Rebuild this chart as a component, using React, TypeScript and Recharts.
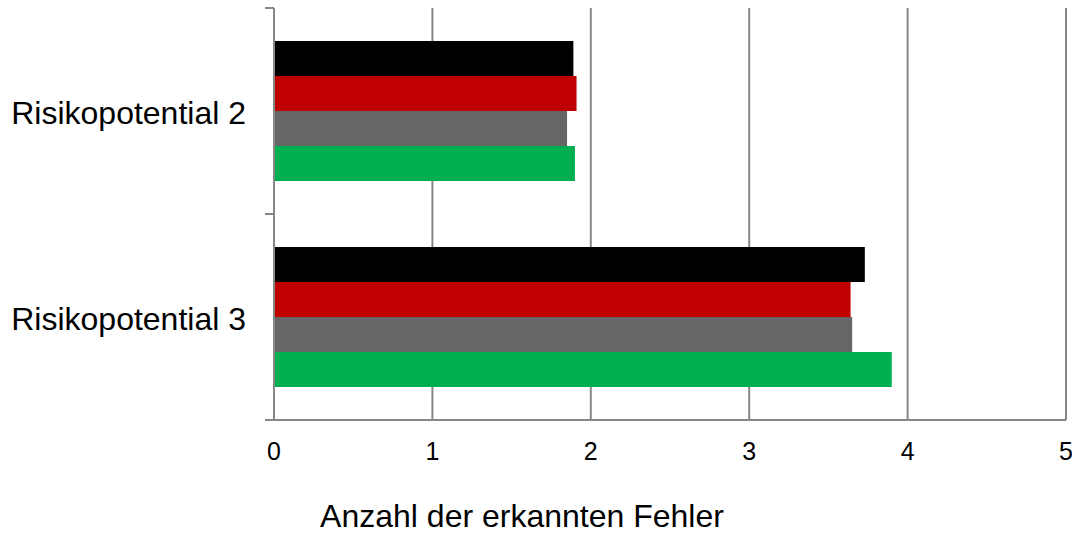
import React from "react";
import {
  BarChart,
  Bar,
  XAxis,
  YAxis,
  CartesianGrid,
  Label,
} from "recharts";

// Risk levels shown as rows, one bar per group in each row
const categories = ["Risikopotential 2", "Risikopotential 3"];

const groupBlack = [1.89, 3.73];
const groupRed = [1.91, 3.64];
const groupGray = [1.85, 3.65];
const groupGreen = [1.9, 3.9];

const xTicks = [0, 1, 2, 3, 4, 5];

const data = categories.map((name, i) => ({
  name,
  black: groupBlack[i],
  red: groupRed[i],
  gray: groupGray[i],
  green: groupGreen[i],
}));

const WIDTH = 1072;
const HEIGHT = 533;
const MARGIN_TOP = 8;
const AXIS_WIDTH = 274;
const X_AXIS_HEIGHT = 113;
const LINE = "#878787";
const FONT = '"Liberation Sans", Arial, sans-serif';

const bandSize = (HEIGHT - MARGIN_TOP - X_AXIS_HEIGHT) / categories.length;

// Category label plus tick marks on the band edges (Excel style)
function CategoryTick(props: any) {
  const { y, payload } = props;
  return (
    <g>
      <line x1={AXIS_WIDTH - 9} x2={AXIS_WIDTH} y1={y - bandSize / 2} y2={y - bandSize / 2} stroke={LINE} strokeWidth={2} />
      <line x1={AXIS_WIDTH - 9} x2={AXIS_WIDTH} y1={y + bandSize / 2} y2={y + bandSize / 2} stroke={LINE} strokeWidth={2} />
      <text
        x={AXIS_WIDTH - 28}
        y={y + 2}
        textAnchor="end"
        dominantBaseline="central"
        fill="#000"
        fontSize={32}
        fontFamily={FONT}
      >
        {payload.value}
      </text>
    </g>
  );
}

export default function App() {
  return (
    <div
      style={{
        position: "absolute",
        left: 0,
        top: 0,
        width: WIDTH,
        height: HEIGHT,
        background: "#fff",
        fontFamily: FONT,
      }}
    >
      <BarChart
        width={WIDTH}
        height={HEIGHT}
        data={data}
        layout="vertical"
        margin={{ top: MARGIN_TOP, right: 6, left: 0, bottom: 0 }}
        barCategoryGap="16%"
        barGap={0}
      >
        <CartesianGrid horizontal={false} stroke={LINE} strokeWidth={2} />
        <XAxis
          type="number"
          domain={[0, 5]}
          ticks={xTicks}
          interval={0}
          height={X_AXIS_HEIGHT}
          axisLine={{ stroke: LINE, strokeWidth: 2 }}
          tickLine={false}
          tickMargin={16}
          tick={{ fill: "#000", fontSize: 25, fontFamily: FONT }}
        >
          <Label
            value="Anzahl der erkannten Fehler"
            position="insideBottom"
            offset={6}
            dx={-148}
            fill="#000"
            fontSize={32}
            fontFamily={FONT}
          />
        </XAxis>
        <YAxis
          type="category"
          dataKey="name"
          width={AXIS_WIDTH}
          axisLine={{ stroke: LINE, strokeWidth: 2 }}
          tickLine={false}
          tick={<CategoryTick />}
        />
        <Bar dataKey="black" fill="#000000" isAnimationActive={false} />
        <Bar dataKey="red" fill="#C00000" isAnimationActive={false} />
        <Bar dataKey="gray" fill="#666666" isAnimationActive={false} />
        <Bar dataKey="green" fill="#00B050" isAnimationActive={false} />
      </BarChart>
    </div>
  );
}
